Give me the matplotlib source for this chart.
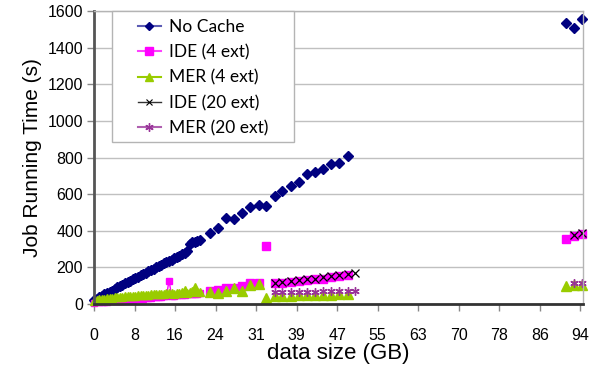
import matplotlib.pyplot as plt
from matplotlib.lines import Line2D
from matplotlib.patches import Rectangle

# densely measured runs, 0 - 20.5 GB
size_dense = [0.0, 0.5, 1.0, 1.5, 2.0, 2.5, 3.0, 3.5, 4.0, 4.5, 5.0, 5.5, 6.0, 6.5,
              7.0, 7.5, 8.0, 8.5, 9.0, 9.5, 10.0, 10.5, 11.0, 11.5, 12.0, 12.5, 13.0,
              13.5, 14.0, 14.5, 15.0, 15.5, 16.0, 16.5, 17.0, 17.5, 18.0, 18.5, 19.0,
              19.5, 20.0, 20.5]
nocache_dense = [22, 30, 38, 45, 52, 58, 66, 72, 82, 92, 99, 106, 113, 119, 127, 134,
                 141, 148, 156, 162, 170, 178, 187, 193, 200, 206, 214, 222, 229, 236,
                 242, 250, 256, 263, 272, 281, 292, 330, 336, 341, 346, 352]
ide4_dense = [8, 9, 10, 11, 12, 13, 14, 15, 16, 17, 18, 19, 20, 22, 23, 24, 26, 27, 28,
              30, 31, 33, 34, 36, 37, 38, 40, 41, 43, 128, 45, 46, 47, 48, 50, 51, 52,
              53, 55, 56, 57, 59]
mer4_dense = [18, 22, 25, 27, 29, 31, 33, 34, 36, 38, 39, 40, 41, 42, 44, 45, 46, 47, 48,
              49, 50, 51, 52, 53, 54, 55, 56, 57, 60, 62, 58, 57, 60, 62, 63, 75, 62,
              65, 70, 92, 66, 68]

# sparse runs, 22 - 51 GB
size_sparse = [22.4, 24.0, 25.6, 27.1, 28.7, 30.2, 31.8, 33.3, 34.9, 36.4, 38.0, 39.6,
               41.2, 42.7, 44.3, 45.9, 47.4, 49.0]
nocache_sparse = [386, 417, 468, 464, 495, 531, 540, 535, 591, 617, 644, 664, 708, 719,
                  737, 763, 770, 810]
ide4_sparse = [73, 75, 86, 88, 98, 113, 116, 318, 113, 116, 122, 126, 131, 135, 138,
               149, 155, 158]
mer4_sparse = [67, 62, 73, 86, 71, 102, 110, 31, 44, 45, 46, 47, 48, 48, 50, 51, 52, 53]
size_20ext = [34.9, 36.4, 38.0, 39.6, 41.2, 42.7, 44.3, 45.9, 47.4, 49.0, 50.5]
ide20_sparse = [115, 120, 125, 130, 134, 139, 145, 151, 158, 163, 171]
mer20_sparse = [66, 66, 67, 67, 68, 68, 69, 69, 70, 70, 71]

# largest runs
size_tail = [91.3, 92.85, 94.4]
nocache_tail = [1534, 1505, 1555]
ide4_tail = [353, 371, 380]
mer4_tail = [98, 104, 104]
size_tail20 = [92.85, 94.4]
ide20_tail = [377, 386]
mer20_tail = [116, 116]

labels = ['No Cache', 'IDE (4 ext)', 'MER (4 ext)', 'IDE (20 ext)', 'MER (20 ext)']

fig = plt.figure(figsize=(6.02, 3.69), dpi=100)
ax = fig.add_axes([94 / 602, 1 - 304 / 369, 488.7 / 602, 293 / 369])

navy = '#000080'
pink = '#ff00ff'
lime = '#99cc00'
purple = '#993399'
aster = (6, 2, 0)

# No Cache
ax.plot(size_dense, nocache_dense, color=navy, lw=1.5, marker='D', ms=5, mec=navy, clip_on=False)
ax.plot(size_sparse + size_tail, nocache_sparse + nocache_tail, ls='none', marker='D',
        ms=5, color=navy, clip_on=False)
# IDE (4 ext)
ax.plot(size_dense, ide4_dense, color=pink, lw=1, marker='s', ms=5, clip_on=False)
ax.plot(size_sparse + size_tail, ide4_sparse + ide4_tail, ls='none', marker='s', ms=6,
        color=pink, clip_on=False)
# MER (4 ext)
ax.plot(size_dense, mer4_dense, color=lime, lw=1, marker='^', ms=6, clip_on=False)
ax.plot(size_sparse + size_tail, mer4_sparse + mer4_tail, ls='none', marker='^', ms=6.5,
        color=lime, clip_on=False)
# IDE (20 ext)
ax.plot(size_20ext + size_tail20, ide20_sparse + ide20_tail, ls='none', marker='x', ms=5.5,
        mew=0.9, color='black', clip_on=False)
# MER (20 ext)
ax.plot(size_20ext + size_tail20, mer20_sparse + mer20_tail, ls='none', marker=aster, ms=6,
        mew=1, color=purple, clip_on=False)

ax.set_xlim(0, 94.45)
ax.set_ylim(0, 1600)
ticks = [k * 94 / 12 for k in range(13)]
ax.set_xticks(ticks)
ax.set_xticklabels([str(round(t)) for t in ticks])
ax.set_yticks(range(0, 1601, 200))

ax.yaxis.grid(True, color='#c0c0c0', lw=1)
ax.set_axisbelow(True)
for s in ['top', 'right']:
    ax.spines[s].set_color('#b4b4b4')
    ax.spines[s].set_linewidth(1)
ax.spines['left'].set_color('#555555')
ax.spines['left'].set_linewidth(2)
ax.spines['bottom'].set_color('#333333')
ax.spines['bottom'].set_linewidth(2)
ax.tick_params(axis='both', colors='#888888', length=5, width=1, labelcolor='black',
               labelsize=11.5)
ax.tick_params(axis='x', pad=12)
ax.tick_params(axis='y', pad=3)
for lab in ax.get_xticklabels() + ax.get_yticklabels():
    lab.set_family('Liberation Sans')

ax.set_xlabel('data size (GB)', family='Liberation Sans', fontsize=16, labelpad=0)
ax.set_ylabel('Job Running Time (s)', family='Liberation Sans', fontsize=15, labelpad=4)

# legend with its own box
handles = [
    Line2D([], [], color='#5c5cb4', lw=1.5, marker='D', ms=4, mfc=navy, mec=navy),
    Line2D([], [], color='#ff40ff', lw=1.5, marker='s', ms=6, mfc=pink, mec=pink),
    Line2D([], [], color=lime, lw=1.5, marker='^', ms=6, mfc=lime, mec=lime),
    Line2D([], [], color='#333333', lw=1, marker='x', ms=5, mew=0.8, mfc='black', mec='black'),
    Line2D([], [], color='#b060b0', lw=1.5, marker=aster, ms=6, mew=1, mfc=purple, mec=purple),
]
fig.patches.append(Rectangle((112 / 602, 1 - 142 / 369), 182 / 602, 131 / 369,
                             transform=fig.transFigure, fill=True, fc='white',
                             ec='#b4b4b4', lw=1, zorder=5))
leg = fig.legend(handles, labels, loc='upper left', bbox_to_anchor=(138 / 602, 1 - 19 / 369),
                 frameon=False, borderpad=0, borderaxespad=0, handlelength=1.3,
                 handletextpad=0.5, labelspacing=0.53,
                 prop={'family': 'Lato', 'size': 12.5})
leg.set_zorder(6)

plt.savefig('out.png', dpi=100)
